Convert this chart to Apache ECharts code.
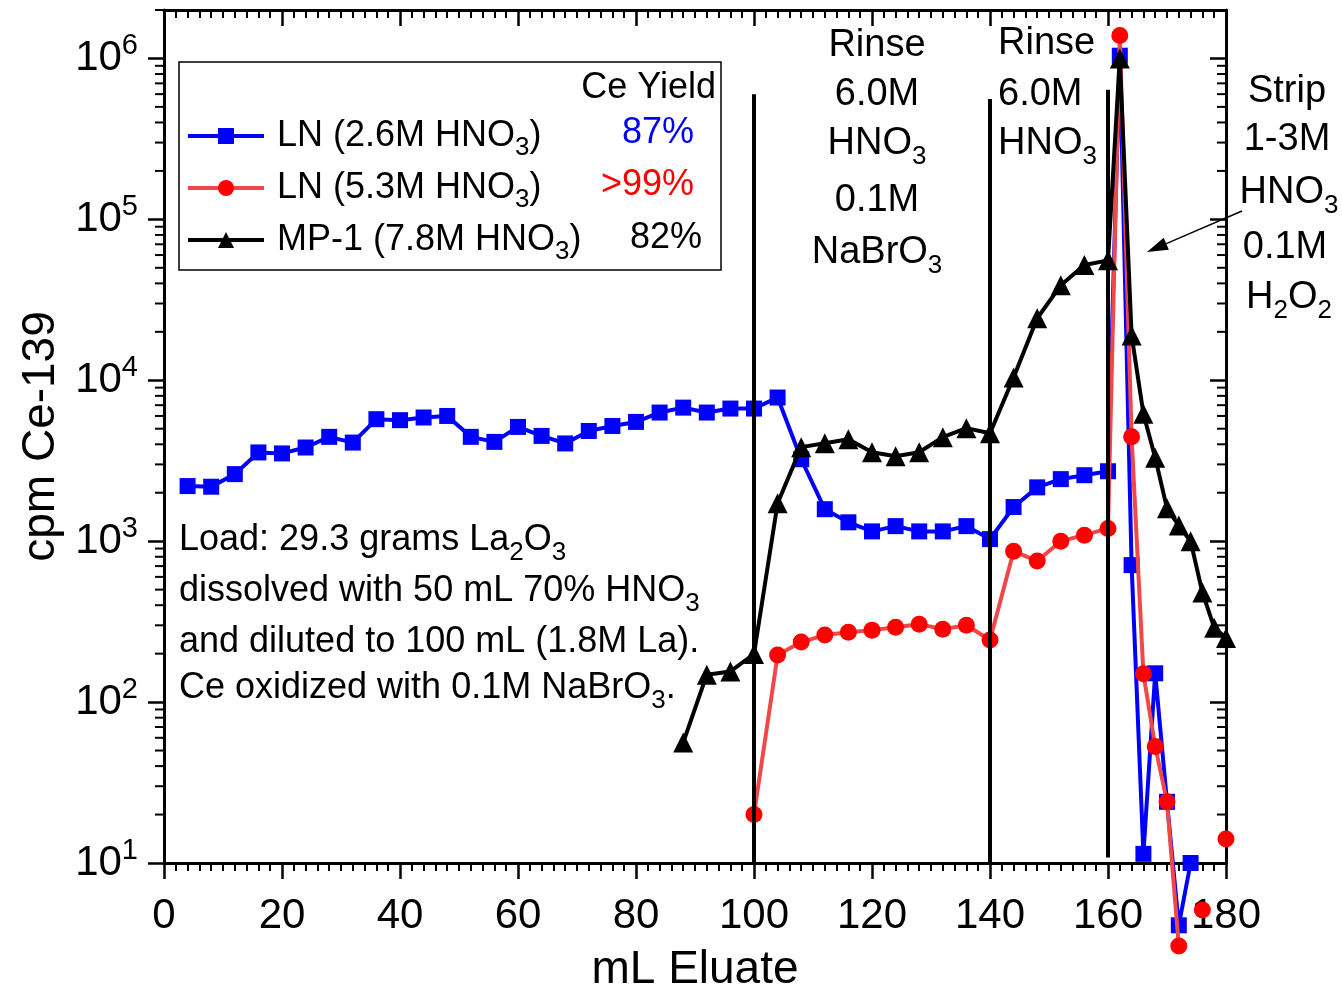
<!DOCTYPE html>
<html><head><meta charset="utf-8">
<script src="https://cdn.jsdelivr.net/npm/echarts@6/dist/echarts.min.js"></script>
<style>html,body{margin:0;padding:0;background:#fff}#chart{width:1342px;height:987px}</style>
</head><body><div id="chart"></div>
<script>
const FONT = "'Liberation Sans', Arial, Helvetica, sans-serif";

// ---- data (mL eluate vs cpm Ce-139) ----
const blueName = 'LN (2.6M HNO3)';
const blueX = [4,8,12,16,20,24,28,32,36,40,44,48,52,56,60,64,68,72,76,80,84,88,92,96,100,104,108,112,116,120,124,128,132,136,140,144,148,152,156,160,162,164,166,168,170,172,174];
const blueY = [2200,2180,2610,3560,3510,3820,4450,4100,5730,5650,5870,6000,4450,4140,5130,4510,4050,4840,5200,5510,6300,6760,6300,6670,6670,7810,3230,1580,1310,1150,1240,1150,1150,1240,1030,1630,2160,2430,2570,2720,1040000,710,11.4,151,24,4.1,10];

const redName = 'LN (5.3M HNO3)';
const redX = [100,104,108,112,116,120,124,128,132,136,140,144,148,152,156,160,162,164,166,168,170,172,174,176,178,180];
const redY = [20,196,236,261,272,280,292,305,284,300,243,867,752,1000,1090,1200,1390000,4450,150,53,24,3.05,null,5.1,null,14.1];

const blackName = 'MP-1 (7.8M HNO3)';
const blackX = [88,92,96,100,104,108,112,116,120,124,128,132,136,140,144,148,152,156,160,162,164,166,168,170,172,174,176,178,180];
const blackY = [56,148,155,199,1720,3840,4060,4300,3570,3370,3570,4430,5040,4690,10400,24300,38900,52000,55600,1000000,19000,6200,3300,1600,1250,1000,480,290,250];

const yieldLabels = ['87%', '>99%', '82%'];
const stageBounds = [100, 140, 160];
const yTickExponents = [1,2,3,4,5,6];
const yMinorTicks = [];
for (const e of yTickExponents) for (let m = 2; m <= 9; m++) { const v = m * Math.pow(10, e); if (v <= 2e6) yMinorTicks.push(v); }

const pairs = (xs, ys) => xs.map((x, i) => [x, ys[i] == null ? '-' : ys[i]]);

const SUB = {fontSize: 26, fontFamily: FONT, lineHeight: 20, padding: [26, 0, 0, 0]};
function subRich(color) { return {s: Object.assign({}, SUB, {fill: color || '#000'})}; }

function txt(x, y, text, opt) {
  opt = opt || {};
  return {
    type: 'text', x: x, y: y, silent: true, z: 100,
    style: {
      text: text, fontSize: opt.size || 38, fontFamily: FONT, fill: opt.color || '#000',
      lineHeight: 46, textAlign: opt.align || 'center', textVerticalAlign: 'middle', verticalAlign: 'middle',
      rich: subRich(opt.color)
    }
  };
}

const legendMap = {};
legendMap[blueName] = '{g| }LN (2.6M HNO{s|3})';
legendMap[redName] = '{g| }LN (5.3M HNO{s|3})';
legendMap[blackName] = '{g| }MP-1 (7.8M HNO{s|3})';

// arrow (annotation pointing at the strip peak)
const arrowTail = [1242, 211], arrowTip = [1147, 252];
const adx = arrowTail[0] - arrowTip[0], ady = arrowTail[1] - arrowTip[1];
const alen = Math.hypot(adx, ady), ux = adx / alen, uy = ady / alen;
const headL = 21, headW = 6.5;
const hb = [arrowTip[0] + ux * headL, arrowTip[1] + uy * headL];

const chart = echarts.init(document.getElementById('chart'), null, {renderer: 'canvas'});

const axisLineStyle = {color: '#000', width: 3};
const vLine = {color: '#000', width: 4, type: 'solid'};
const option = {
  animation: false,
  backgroundColor: '#fff',
  grid: {left: 164, right: 116, top: 10, bottom: 124, containLabel: false, outerBoundsMode: 'none'},
  legend: {
    data: [blueName, redName, blackName],
    orient: 'vertical', left: 186, top: 111, padding: 0,
    itemWidth: 76, itemHeight: 20, itemGap: 2,
    selectedMode: false,
    lineStyle: {width: 4},
    formatter: n => legendMap[n],
    textStyle: {
      fontSize: 36, fontFamily: FONT, color: '#000', lineHeight: 40,
      rich: {
        g: {width: 8, fontSize: 36, lineHeight: 40},
        s: {fontSize: 26, fontFamily: FONT, color: '#000', lineHeight: 16, padding: [24, 0, 0, 0]}
      }
    }
  },
  xAxis: [
    {
      type: 'value', min: 0, max: 180, interval: 20, position: 'bottom',
      axisLine: {show: true, onZero: false, lineStyle: axisLineStyle},
      axisTick: {show: true, inside: false, length: 16, lineStyle: {color: '#000', width: 2.5}},
      minorTick: {show: true, splitNumber: 10, length: 8, lineStyle: {color: '#000', width: 2}},
      splitLine: {show: false},
      axisLabel: {fontSize: 42, fontFamily: FONT, color: '#000', margin: 32},
      name: 'mL Eluate', nameLocation: 'middle', nameGap: 84,
      nameTextStyle: {fontSize: 46, fontFamily: FONT, color: '#000'}
    },
    {
      type: 'value', min: 0, max: 180, interval: 20, position: 'top',
      axisLine: {show: true, onZero: false, lineStyle: axisLineStyle},
      axisTick: {show: true, inside: true, length: 16, lineStyle: {color: '#000', width: 2.5}},
      minorTick: {show: true, splitNumber: 10, length: 8, lineStyle: {color: '#000', width: 2}},
      splitLine: {show: false}, axisLabel: {show: false}
    }
  ],
  yAxis: [
    {
      type: 'log', logBase: 10, min: 10, max: 2e6, position: 'left',
      axisLine: {show: true, onZero: false, lineStyle: axisLineStyle},
      axisTick: {show: true, inside: false, length: 16, lineStyle: {color: '#000', width: 2.5}},
      splitLine: {show: false},
      axisLabel: {
        margin: 26, showMaxLabel: false,
        formatter: v => {
          const l = Math.log10(v); const e = Math.round(l);
          return (Math.abs(l - e) < 1e-6 && yTickExponents.indexOf(e) >= 0) ? '{b|10}{p|' + e + '}' : '';
        },
        rich: {
          b: {fontSize: 42, fontFamily: FONT, color: '#000', lineHeight: 46},
          p: {fontSize: 29, fontFamily: FONT, color: '#000', lineHeight: 22, padding: [0, 0, 24, 0]}
        }
      },
      name: 'cpm Ce-139', nameLocation: 'middle', nameGap: 98,
      nameTextStyle: {fontSize: 46, fontFamily: FONT, color: '#000'}
    },
    {
      type: 'log', logBase: 10, min: 10, max: 2e6, position: 'right',
      axisLine: {show: true, onZero: false, lineStyle: axisLineStyle},
      axisTick: {show: true, inside: true, length: 16, lineStyle: {color: '#000', width: 2.5}},
      splitLine: {show: false}, axisLabel: {show: false}
    }
  ],
  series: [
    {
      type: 'custom', silent: true, clip: false, z: 1,
      xAxisIndex: 0, yAxisIndex: 0,
      data: yMinorTicks.map(v => [0, v]),
      renderItem: (params, api) => {
        const v = api.value(1);
        const pL = api.coord([0, v]);
        const pR = api.coord([180, v]);
        return {type: 'group', children: [
          {type: 'line', shape: {x1: pL[0] - 9, y1: pL[1], x2: pL[0], y2: pL[1]}, style: {stroke: '#000', lineWidth: 2}},
          {type: 'line', shape: {x1: pR[0] - 9, y1: pR[1], x2: pR[0], y2: pR[1]}, style: {stroke: '#000', lineWidth: 2}}
        ]};
      }
    },
    {
      name: blueName, type: 'line', data: pairs(blueX, blueY), clip: false, z: 3,
      symbol: 'rect', symbolSize: 16, showAllSymbol: true,
      itemStyle: {color: '#0000ff'}, lineStyle: {color: '#0000ff', width: 4}
    },
    {
      name: redName, type: 'line', data: pairs(redX, redY), clip: false, z: 4, connectNulls: false,
      symbol: 'circle', symbolSize: 17, showAllSymbol: true,
      itemStyle: {color: '#ff0000'}, lineStyle: {color: '#f04848', width: 4}
    },
    {
      name: blackName, type: 'line', data: pairs(blackX, blackY), clip: false, z: 5,
      symbol: 'triangle', symbolSize: 20, showAllSymbol: true,
      itemStyle: {color: '#000'}, lineStyle: {color: '#000', width: 4},
      markLine: {
        silent: true, animation: false, symbol: ['none', 'none'], label: {show: false},
        lineStyle: vLine,
        emphasis: {disabled: true},
        data: [
          [{coord: [stageBounds[0], 10], lineStyle: vLine}, {coord: [stageBounds[0], 6e5], lineStyle: vLine}],
          [{coord: [stageBounds[1], 10], lineStyle: vLine}, {coord: [stageBounds[1], 5.6e5], lineStyle: vLine}],
          [{coord: [stageBounds[2], 10.8], lineStyle: vLine}, {coord: [stageBounds[2], 6.4e5], lineStyle: vLine}]
        ]
      }
    }
  ],
  graphic: [
    {type: 'rect', silent: true, z: 90, shape: {x: 179, y: 62, width: 542, height: 208}, style: {fill: 'none', stroke: '#000', lineWidth: 1.5}},
    txt(716, 88, 'Ce Yield', {size: 36, align: 'right'}),
    txt(694, 133, yieldLabels[0], {size: 36, align: 'right', color: '#0000ff'}),
    txt(694, 185, yieldLabels[1], {size: 36, align: 'right', color: '#ff0000'}),
    txt(702, 238, yieldLabels[2], {size: 36, align: 'right', color: '#000'}),

    txt(877, 46, 'Rinse'), txt(877, 95, '6.0M'), txt(877, 144, 'HNO{s|3}'), txt(877, 201, '0.1M'), txt(877, 253, 'NaBrO{s|3}'),
    txt(998, 44, 'Rinse', {align: 'left'}), txt(998, 95, '6.0M', {align: 'left'}), txt(998, 144, 'HNO{s|3}', {align: 'left'}),
    txt(1287, 92, 'Strip'), txt(1287, 140, '1-3M'), txt(1289, 193, 'HNO{s|3}'), txt(1285, 248, '0.1M'), txt(1289, 298, 'H{s|2}O{s|2}'),

    txt(179, 540, 'Load: 29.3 grams La{s|2}O{s|3}', {size: 36, align: 'left'}),
    txt(179, 591, 'dissolved with 50 mL 70% HNO{s|3}', {size: 36, align: 'left'}),
    txt(179, 642, 'and diluted to 100 mL (1.8M La).', {size: 36, align: 'left'}),
    txt(179, 688, 'Ce oxidized with 0.1M NaBrO{s|3}.', {size: 36, align: 'left'}),

    {type: 'line', silent: true, z: 95, shape: {x1: arrowTail[0], y1: arrowTail[1], x2: hb[0], y2: hb[1]}, style: {stroke: '#000', lineWidth: 1.5}},
    {type: 'polygon', silent: true, z: 95, shape: {points: [
      arrowTip,
      [hb[0] - uy * headW, hb[1] + ux * headW],
      [hb[0] + uy * headW, hb[1] - ux * headW]
    ]}, style: {fill: '#000'}}
  ]
};
chart.setOption(option);
</script></body></html>
